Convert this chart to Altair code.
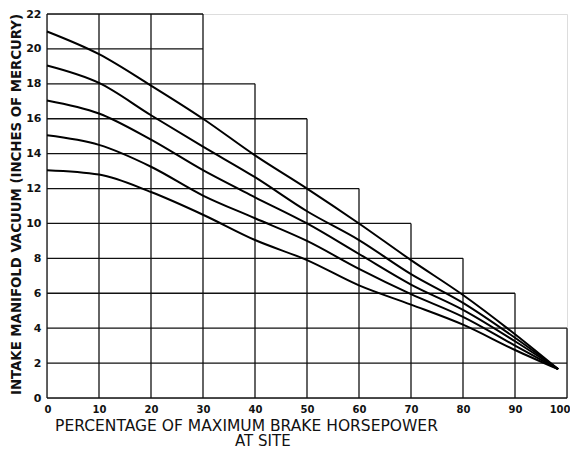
import altair as alt
import pandas as pd

# Percentage of maximum brake horsepower (x) and the five vacuum curves (y)
power = [0, 10, 20, 30, 40, 50, 60, 70, 80, 90, 98.3]
curve_21 = [21.0, 19.7, 17.9, 16.0, 13.9, 12.0, 10.0, 7.9, 5.9, 3.65, 1.65]
curve_19 = [19.05, 18.05, 16.2, 14.4, 12.65, 10.7, 9.05, 7.1, 5.45, 3.45, 1.65]
curve_17 = [17.05, 16.3, 14.8, 13.05, 11.5, 10.0, 8.25, 6.5, 5.05, 3.25, 1.65]
curve_15 = [15.05, 14.5, 13.25, 11.6, 10.3, 9.0, 7.4, 5.95, 4.65, 3.0, 1.65]
curve_13 = [13.05, 12.8, 11.8, 10.5, 9.05, 7.9, 6.45, 5.35, 4.2, 2.75, 1.65]

# Stepped grid: horizontal lines (value, right end) and vertical lines (value, top end)
h_vals = [0, 2, 4, 6, 8, 10, 12, 14, 16, 18, 20, 22]
h_ends = [100, 100, 100, 90, 80, 70, 60, 50, 50, 40, 30, 30]
v_vals = [0, 10, 20, 30, 40, 50, 60, 70, 80, 90, 100]
v_ends = [22, 22, 22, 22, 18, 16, 12, 10, 8, 6, 4]

series = {"21": curve_21, "19": curve_19, "17": curve_17, "15": curve_15, "13": curve_13}
rows = []
for name, vals in series.items():
    for p, v in zip(power, vals):
        rows.append({"series": name, "power": p, "vacuum": v})
curves = pd.DataFrame(rows)

hgrid = pd.DataFrame({"y": h_vals, "x0": [0] * len(h_vals), "x1": h_ends})
vgrid = pd.DataFrame({"x": v_vals, "y0": [0] * len(v_vals), "y1": v_ends})

xscale = alt.Scale(domain=[0, 100], nice=False, zero=False)
yscale = alt.Scale(domain=[0, 22], nice=False, zero=False)

xaxis = alt.Axis(
    values=v_vals, domain=False, ticks=False, grid=False,
    labelFont="DejaVu Sans", labelFontSize=10, labelFontWeight="bold",
    labelColor="#111", labelPadding=6,
    labelFlush=True, labelFlushOffset=3,
    title="PERCENTAGE OF MAXIMUM BRAKE HORSEPOWER",
    titleFont="DejaVu Sans", titleFontSize=15.5, titleFontWeight="normal",
    titleColor="#111", titleX=199, titleY=32, titleBaseline="alphabetic",
    titleAnchor="start", titleAlign="center",
)
yaxis = alt.Axis(
    values=h_vals, domain=False, ticks=False, grid=False,
    labelFont="DejaVu Sans", labelFontSize=11, labelFontWeight="bold",
    labelColor="#111", labelPadding=6, labelFlush=False,
    title="INTAKE MANIFOLD VACUUM (INCHES OF MERCURY)",
    titleFont="DejaVu Sans", titleFontSize=13.3, titleFontWeight="bold",
    titleColor="#111", titleX=-24, titleY=190, titleAlign="center",
)

h_layer = alt.Chart(hgrid).mark_rule(color="#111", strokeWidth=1.3).encode(
    x=alt.X("x0:Q", scale=xscale, axis=xaxis),
    x2="x1:Q",
    y=alt.Y("y:Q", scale=yscale, axis=yaxis),
)
v_layer = alt.Chart(vgrid).mark_rule(color="#111", strokeWidth=1.3).encode(
    x=alt.X("x:Q", scale=xscale, axis=xaxis),
    y=alt.Y("y0:Q", scale=yscale, axis=yaxis),
    y2="y1:Q",
)
line_layer = alt.Chart(curves).mark_line(
    color="#000", strokeWidth=2, interpolate="monotone"
).encode(
    x=alt.X("power:Q", scale=xscale, axis=xaxis),
    y=alt.Y("vacuum:Q", scale=yscale, axis=yaxis),
    detail="series:N",
)

chart = alt.layer(h_layer, v_layer, line_layer).properties(
    width=520,
    height=384,
    autosize=alt.AutoSizeParams(type="none"),
    padding={"left": 39, "top": 6, "right": 3, "bottom": 48},
    title=alt.TitleParams(
        "AT SITE", orient="bottom", anchor="start", frame="group",
        dx=188, offset=12, baseline="alphabetic", font="DejaVu Sans",
        fontSize=15, fontWeight="normal", color="#111",
    ),
).configure_view(stroke=None).configure(background="white")

chart.save("out.html", embed_options={"renderer": "svg", "actions": False})
